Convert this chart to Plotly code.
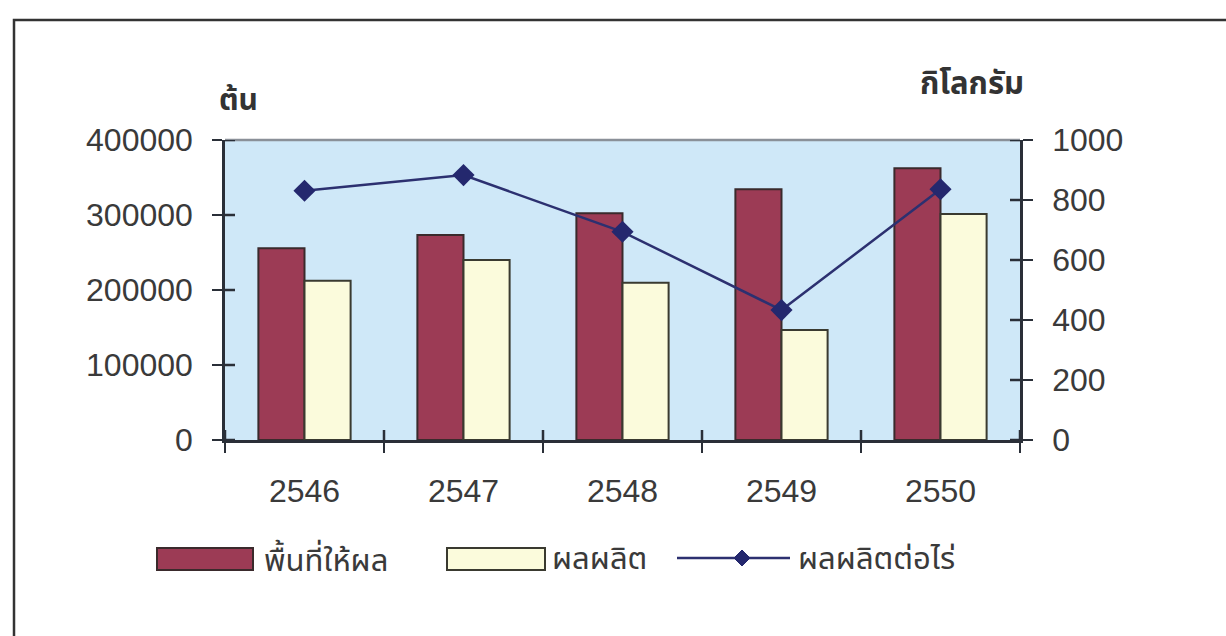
import plotly.graph_objects as go

years = ["2546", "2547", "2548", "2549", "2550"]
area = [255600, 273300, 302200, 334200, 362200]        # พื้นที่ให้ผล (ต้น)
production = [212400, 240000, 209800, 146700, 301300]  # ผลผลิต
yield_per_rai = [831, 883, 694, 433, 836]              # ผลผลิตต่อไร่ (กิโลกรัม)

left_ticks = [0, 100000, 200000, 300000, 400000]
left_ticktext = ["0", "100000", "200000", "300000", "400000"]
right_ticks = [0, 200, 400, 600, 800, 1000]
right_ticktext = ["0", "200", "400", "600", "800", "1000"]

names = ["พื้นที่ให้ผล", "ผลผลิต", "ผลผลิตต่อไร่"]
left_title = "ต้น"
right_title = "กิโลกรัม"

FONT = "Liberation Sans, Arial, Noto Sans Thai, Noto Sans, sans-serif"
TXT = "#3a3a3a"
AX = "#2a2f38"
MAROON = "#9c3b55"
CREAM = "#fbfbdc"
NAVY = "#2c3070"

fig = go.Figure()
fig.add_trace(go.Bar(x=years, y=area, name=names[0], showlegend=False,
                     marker=dict(color=MAROON, line=dict(color="#3a2a2c", width=2))))
fig.add_trace(go.Bar(x=years, y=production, name=names[1], showlegend=False,
                     marker=dict(color=CREAM, line=dict(color="#3a3a30", width=2))))
fig.add_trace(go.Scatter(x=years, y=yield_per_rai, name=names[2], yaxis="y2",
                         mode="lines+markers", showlegend=False,
                         line=dict(color=NAVY, width=2.5),
                         marker=dict(symbol="diamond", size=17, color="#24286e")))

tickfont = dict(family=FONT, size=32, color=TXT)
TICKLEN = 10
tk = dict(ticklen=TICKLEN, tickwidth=2, tickcolor=AX)

PLOT_W, PLOT_H = 795.0, 300.0

# inner halves of the "cross" tick marks, placed through the axes' own scales
ix, iy = TICKLEN / PLOT_W, TICKLEN / PLOT_H
tick_shapes = []
for v in left_ticks:
    tick_shapes.append(dict(type="line", xref="paper", yref="y", x0=0, x1=ix, y0=v, y1=v,
                            line=dict(color=AX, width=2.5), layer="above"))
for v in right_ticks:
    tick_shapes.append(dict(type="line", xref="paper", yref="y2", x0=1 - ix, x1=1, y0=v, y1=v,
                            line=dict(color=AX, width=2.5), layer="above"))
for i in range(len(years) + 1):
    b = i - 0.5  # category boundary
    tick_shapes.append(dict(type="line", xref="x", yref="paper", x0=b, x1=b, y0=0, y1=iy,
                            line=dict(color=AX, width=2.5), layer="above"))

# ---- legend (drawn as decoration in paper coordinates) ----
def px_x(px):
    return (px - 225) / PLOT_W

def px_y(py):
    return (440 - py) / PLOT_H

leg_y0, leg_y1, leg_mid = px_y(570), px_y(548), px_y(558)
dx, dy = 8 / PLOT_W, 8 / PLOT_H
dm = px_x(742)
legend_shapes = [
    dict(type="rect", xref="paper", yref="paper", x0=px_x(157), x1=px_x(253), y0=leg_y0, y1=leg_y1,
         fillcolor=MAROON, line=dict(color="#3a2a2c", width=2)),
    dict(type="rect", xref="paper", yref="paper", x0=px_x(447), x1=px_x(545), y0=leg_y0, y1=leg_y1,
         fillcolor=CREAM, line=dict(color="#3a3a30", width=2)),
    dict(type="line", xref="paper", yref="paper", x0=px_x(677), x1=px_x(790), y0=leg_mid, y1=leg_mid,
         line=dict(color=NAVY, width=2.5)),
    dict(type="path", xref="paper", yref="paper",
         path=f"M {dm - dx},{leg_mid} L {dm},{leg_mid + dy} L {dm + dx},{leg_mid} L {dm},{leg_mid - dy} Z",
         fillcolor="#24286e", line=dict(color="#24286e", width=1)),
]
legend_text_x = [px_x(262), px_x(550), px_x(796)]
legend_annots = [
    dict(text=n, xref="paper", yref="paper", x=lx, y=leg_mid, showarrow=False,
         xanchor="left", yanchor="middle", font=dict(family=FONT, size=31, color=TXT))
    for n, lx in zip(names, legend_text_x)
]

fig.update_layout(
    width=1226, height=636,
    margin=dict(l=225, r=206, t=140, b=196),
    paper_bgcolor="white",
    plot_bgcolor="#cfe8f8",
    barmode="group",
    bargap=0.42,
    bargroupgap=0,
    font=dict(family=FONT, color=TXT),
    showlegend=False,
    xaxis=dict(type="category", range=[-0.5, 4.5], showgrid=False, zeroline=False,
               showline=True, linecolor=AX, linewidth=2.5,
               ticks="outside", tickson="boundaries", tickfont=tickfont,
               ticklabelstandoff=21, **tk),
    yaxis=dict(range=[0, 400000], tickvals=left_ticks, ticktext=left_ticktext,
               showgrid=False, zeroline=False, showline=True, linecolor=AX, linewidth=2.5,
               ticks="outside", tickfont=tickfont, ticklabelstandoff=13, **tk),
    yaxis2=dict(range=[0, 1000], tickvals=right_ticks, ticktext=right_ticktext,
                overlaying="y", side="right", showgrid=False, zeroline=False,
                showline=True, linecolor=AX, linewidth=2.5,
                ticks="outside", tickfont=tickfont, ticklabelstandoff=13, **tk),
    annotations=[
        dict(text="<b>" + left_title + "</b>", xref="paper", yref="paper", x=0.017, y=1.135,
             showarrow=False, font=dict(family=FONT, size=30, color="#333"),
             xanchor="center", yanchor="middle"),
        dict(text="<b>" + right_title + "</b>", xref="paper", yref="paper", x=0.94, y=1.19,
             showarrow=False, font=dict(family=FONT, size=31, color="#333"),
             xanchor="center", yanchor="middle"),
    ] + legend_annots,
    shapes=[
        dict(type="line", xref="paper", yref="paper", x0=0, x1=1, y0=1, y1=1,
             line=dict(color="#8a9098", width=2.5)),
        dict(type="rect", xref="paper", yref="paper", x0=-0.2654, x1=1.3, y0=-0.8, y1=1.4,
             line=dict(color="#333", width=2.5), fillcolor="rgba(0,0,0,0)", layer="below"),
    ] + tick_shapes + legend_shapes,
)

fig.write_html("out.html")
